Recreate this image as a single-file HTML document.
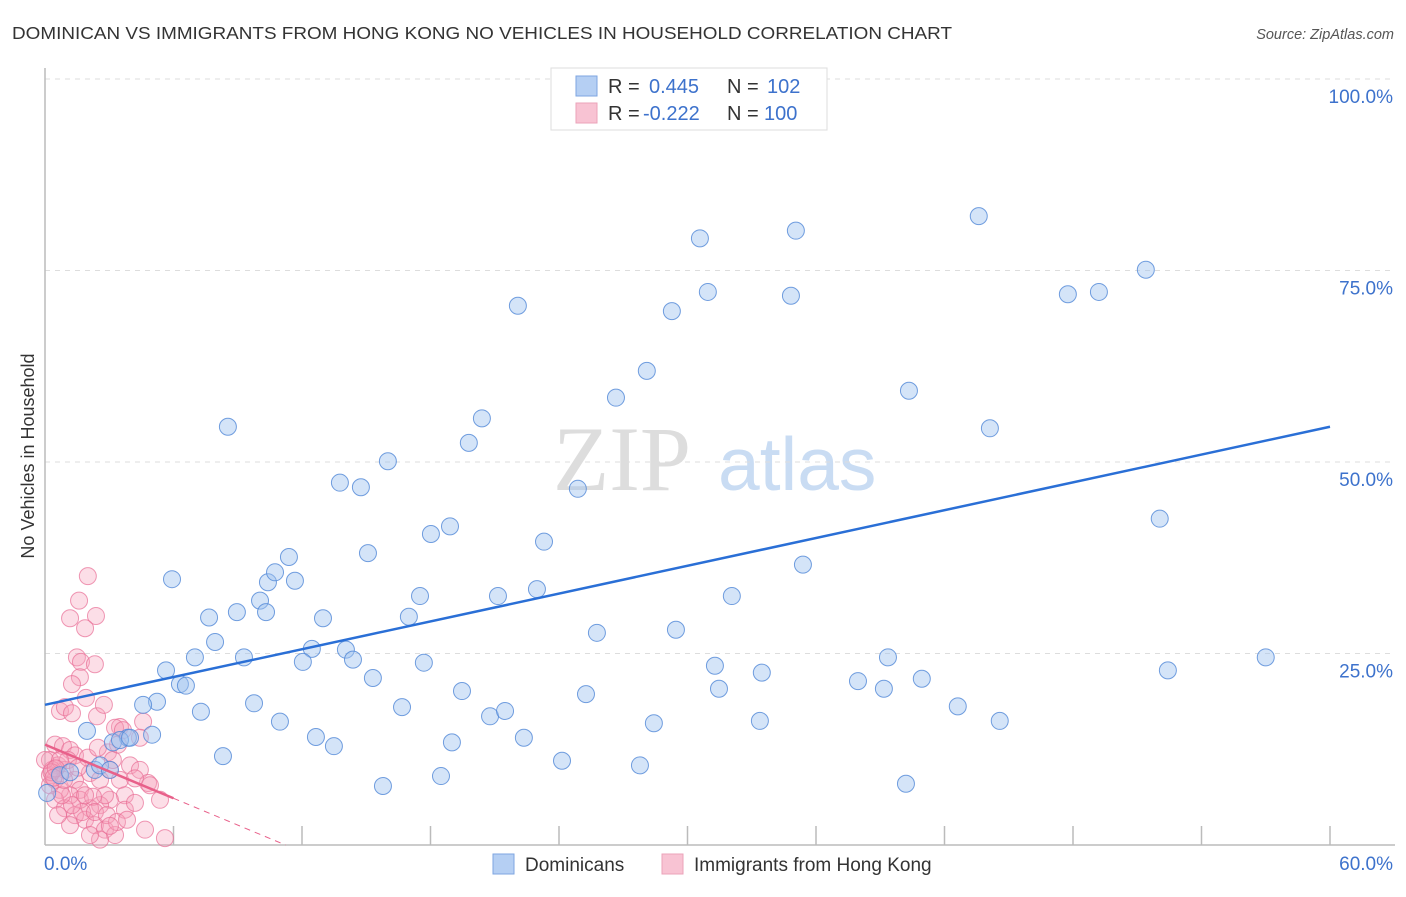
<!DOCTYPE html>
<html><head><meta charset="utf-8"><style>
body{margin:0;background:#fff;font-family:"Liberation Sans",sans-serif}
</style></head><body>
<svg id="chart" width="1406" height="892" xmlns="http://www.w3.org/2000/svg">
<text x="12" y="39" font-size="17.5" fill="#333" textLength="940" lengthAdjust="spacingAndGlyphs">DOMINICAN VS IMMIGRANTS FROM HONG KONG NO VEHICLES IN HOUSEHOLD CORRELATION CHART</text>
<text x="1394" y="39" font-size="14.5" fill="#555" font-style="italic" text-anchor="end">Source: ZipAtlas.com</text>
<text x="34" y="456" font-size="18" fill="#333" text-anchor="middle" transform="rotate(-90 34 456)">No Vehicles in Household</text>
<g><text x="553" y="490" font-size="92" font-family="Liberation Serif,serif" fill="#ddd">ZIP</text><text x="718" y="490" font-size="75" fill="#c9dcf3">atlas</text></g>
<g id="grid"></g><g id="axes"></g><g id="pink"></g><g id="blue"></g><g id="lines"></g>
<g>
<rect x="551" y="68" width="276" height="62" fill="#fff" stroke="#ddd"/>
<rect x="576" y="76" width="21" height="20" fill="#b5cff3" stroke="#7ea6e0"/>
<rect x="576" y="103" width="21" height="20" fill="#f8c3d3" stroke="#eba3ba"/>
<text x="608" y="93" font-size="20" fill="#333">R = <tspan x="649" fill="#3d72cc">0.445</tspan><tspan x="727" fill="#333">N = </tspan><tspan x="767" fill="#3d72cc">102</tspan></text>
<text x="608" y="120" font-size="20" fill="#333">R = <tspan x="643" fill="#3d72cc">-0.222</tspan><tspan x="727" fill="#333">N = </tspan><tspan x="764" fill="#3d72cc">100</tspan></text>
</g>
<g>
<rect x="493" y="854" width="21" height="20" fill="#b5cff3" stroke="#7ea6e0"/>
<text x="525" y="871" font-size="19" fill="#333">Dominicans</text>
<rect x="662" y="854" width="21" height="20" fill="#f8c3d3" stroke="#eba3ba"/>
<text x="694" y="871" font-size="19" fill="#333">Immigrants from Hong Kong</text>
</g>
</svg>
<script>
const blueX=[8.54,5.93,7.66,8.96,10.04,7.94,9.29,7.0,6.3,6.58,5.65,5.23,4.58,7.28,9.76,10.97,8.31,5.0,3.87,3.17,1.96,10.32,10.41,10.74,11.39,11.67,12.98,12.46,12.04,14.05,14.38,15.31,16.67,12.65,13.49,15.78,13.77,14.75,16.01,15.08,17.51,16.99,17.69,18.02,18.91,19.79,20.4,19.47,18.49,19.0,20.78,21.48,22.36,24.14,21.15,22.97,23.3,22.08,24.88,25.77,25.26,26.66,28.1,29.27,29.46,28.43,27.78,30.58,30.95,32.07,31.28,31.47,33.47,33.38,35.06,34.83,35.39,37.96,39.17,39.36,40.94,40.34,40.2,42.62,43.6,44.12,44.58,47.76,49.21,51.4,52.05,52.43,57.0,0.1,0.7,1.17,2.33,2.57,3.5,3.97,3.03];
const blueY=[54.6,34.7,29.7,30.4,31.9,26.5,24.5,24.5,21.0,20.8,22.8,18.7,18.3,17.4,18.5,16.1,11.6,14.4,14.0,13.4,14.9,30.4,34.3,35.6,37.6,34.5,29.6,25.6,23.9,25.5,24.2,21.8,18.0,14.1,12.9,7.7,47.3,46.7,50.1,38.1,32.5,29.8,23.8,40.6,41.6,52.5,55.7,20.1,9.0,13.4,16.8,17.5,14.0,11.0,32.5,33.4,39.6,70.4,46.5,27.7,19.7,58.4,61.9,69.7,28.1,15.9,10.4,79.2,72.2,32.5,23.4,20.4,22.5,16.2,80.2,71.7,36.6,21.4,20.4,24.5,21.7,59.3,8.0,18.1,82.1,54.4,16.2,71.9,72.2,75.1,42.6,22.8,24.5,6.8,9.1,9.5,9.8,10.4,13.7,14.0,9.8];
const pinkX=[2.0,1.59,2.38,1.17,1.87,1.49,1.68,2.33,1.63,1.26,1.91,0.7,0.93,1.26,2.43,3.5,4.58,3.27,2.75,0.47,0.84,1.17,1.4,0.23,0.61,0.23,0.47,0.93,1.4,1.63,2.1,2.57,3.03,2.94,3.5,3.97,4.43,4.81,4.2,3.73,3.03,2.57,2.1,1.63,1.17,0.7,0.23,0.47,0.93,1.4,1.87,2.33,2.8,3.27,3.73,4.2,4.67,5.37,5.6,4.9,2.8,2.24,1.73,1.26,0.79,0.33,1.07,1.54,2.0,2.47,3.17,3.64,4.43,3.41,0,0.7,0.89,1.87,2.33,2.89,3.36,3.83,2.57,3.03,2.1,1.17,0.61,0.3,0.5,0.4];
const pinkY=[35.1,31.9,29.9,29.6,28.3,24.5,23.9,23.6,21.9,21.0,19.2,17.5,18.0,17.2,16.8,15.4,16.1,15.3,18.3,13.1,12.9,12.4,11.7,11.1,10.4,9.1,8.5,9.8,8.5,7.2,9.4,8.5,9.8,12.1,8.5,10.4,9.8,8.1,8.7,6.5,5.9,5.2,4.8,5.9,6.5,7.2,7.8,5.9,4.8,3.9,3.3,2.6,2.0,1.3,4.6,5.5,2.0,5.9,0.9,7.8,6.5,6.3,4.3,5.2,6.5,9.8,11.1,10.1,11.4,12.7,11.1,15.0,14.0,13.1,11.1,11.1,8.5,6.5,4.3,3.9,3.0,3.3,0.7,2.5,1.3,2.6,3.9,9.5,10.0,8.8];
const yTicks=[25,50,75,100];
const xTickLabels=["0.0%","60.0%"];
const blueTrend=[18.3,54.6];
const pinkTrend=[13.1,6.1];
const NS="http://www.w3.org/2000/svg";
const X0=45,X1=1330,Y0=845,YTOP=79;
function sx(v){return X0+(X1-X0)*v/60;}
function sy(v){return Y0-(Y0-YTOP)*v/100;}
function mk(tag,attrs,parent){const e=document.createElementNS(NS,tag);for(const k in attrs)e.setAttribute(k,attrs[k]);parent.appendChild(e);return e;}
const grid=document.getElementById('grid'),axes=document.getElementById('axes');
yTicks.forEach(t=>{
 const l=mk('line',{x1:X0,x2:1395,y1:sy(t),y2:sy(t),stroke:'#ddd','stroke-dasharray':'5,5'},grid);
 
 
 const tx=mk('text',{x:1393,y:sy(t)+24,'font-size':19,fill:'#3d72cc','text-anchor':'end'},axes);
 tx.textContent=t.toFixed(1)+'%';
 
 
});
const ya=mk('line',{x1:X0,x2:X0,y1:68,y2:Y0,stroke:'#bbb','stroke-width':1.5},axes);


const xa=mk('line',{x1:X0,x2:1395,y1:Y0,y2:Y0,stroke:'#bbb','stroke-width':1.5},axes);


for(let i=1;i<=10;i++){
 const t=mk('line',{x1:sx(i*6),x2:sx(i*6),y1:Y0,y2:Y0-19,stroke:'#bbb','stroke-width':1.5},axes);
 
 
}
[[0,'start',44],[60,'end',1393]].forEach((d,i)=>{
 const t=mk('text',{x:d[2],y:870,'font-size':19,fill:'#3d72cc','text-anchor':d[1]},axes);
 t.textContent=xTickLabels[i];
 
 
});
const pg=document.getElementById('pink'),bg=document.getElementById('blue');
pinkX.forEach((x,i)=>{
 const c=mk('circle',{cx:sx(x),cy:sy(pinkY[i]),r:8.5,fill:'rgba(245,160,185,0.35)',stroke:'rgba(232,110,150,0.7)','stroke-width':1},pg);
 
 
});
blueX.forEach((x,i)=>{
 const c=mk('circle',{cx:sx(x),cy:sy(blueY[i]),r:8.5,fill:'rgba(160,195,240,0.45)',stroke:'rgba(80,135,215,0.8)','stroke-width':1},bg);
 
 
});
const lg=document.getElementById('lines');
const bl=mk('line',{x1:sx(0),y1:sy(blueTrend[0]),x2:sx(60),y2:sy(blueTrend[1]),stroke:'#2a6fd6','stroke-width':2.5},lg);


const slope=(pinkTrend[1]-pinkTrend[0])/6;
const pl=mk('line',{x1:sx(0),y1:sy(pinkTrend[0]),x2:sx(6),y2:sy(pinkTrend[1]),stroke:'#e8608a','stroke-width':2.5},lg);


const xz=-pinkTrend[0]/slope;
const pd=mk('line',{x1:sx(6),y1:sy(pinkTrend[1]),x2:sx(xz),y2:sy(0),stroke:'#e8608a','stroke-width':1,'stroke-dasharray':'6,5'},lg);


</script>
</body></html>
